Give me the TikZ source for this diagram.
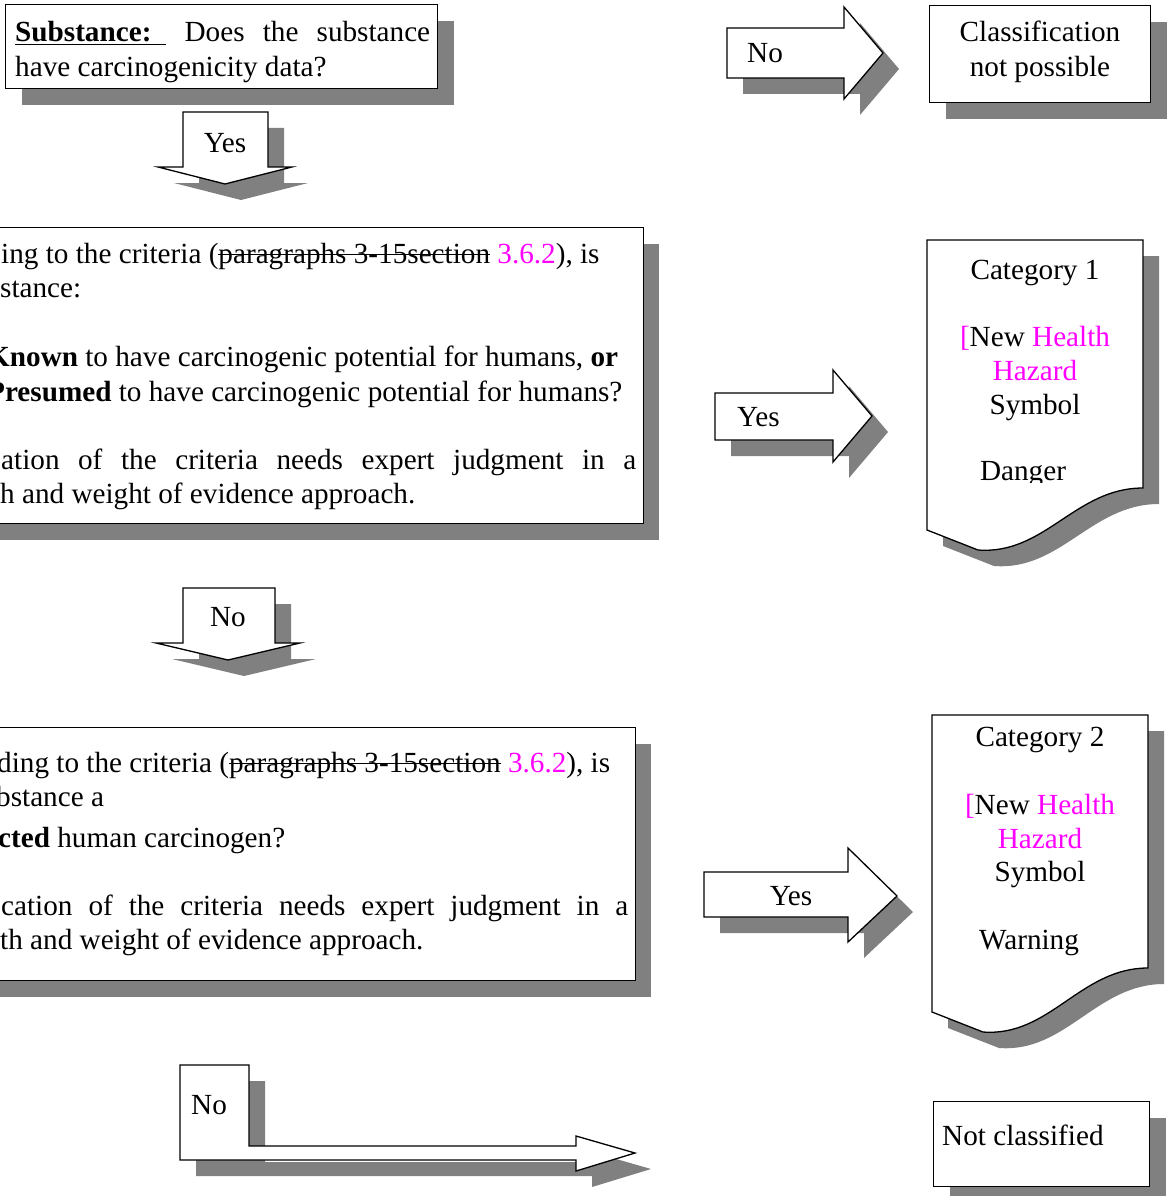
\documentclass[tikz,border=0pt]{standalone}
\usepackage{fontspec}
\setmainfont{Liberation Serif}
\usepackage{xcolor}
\usetikzlibrary{shadows}
\definecolor{shadowgray}{rgb}{0.5,0.5,0.5}
\definecolor{newtext}{rgb}{1,0,1}
\newsavebox{\strikebox}
\newcommand{\strikeout}[1]{\sbox{\strikebox}{#1}\rlap{\rule[0.27em]{\wd\strikebox}{0.05em}}\usebox{\strikebox}}

\tikzset{
  box/.style={draw=black, fill=white, line width=1.3pt, inner sep=0pt},
  dropgray/.style={general shadow={draw=none, fill=shadowgray, shadow xshift=16pt, shadow yshift=-16pt}},
  txt/.style={inner sep=0pt, anchor=base west, font=\fontsize{29.2}{34.5}\selectfont},
  ctxt/.style={txt, anchor=base},
}

\begin{document}
\begin{tikzpicture}[x=1pt,y=-1pt]
        \useasboundingbox (0,0) rectangle (1167,1196);
        % boxes
        \node[box, dropgray, minimum width=432, minimum height=84, anchor=north west] (subst) at (5,4) {};
        \node[box, dropgray, minimum width=680, minimum height=296, anchor=north east] (critA) at (644,227) {};
        \node[box, dropgray, minimum width=680, minimum height=253, anchor=north east] (critB) at (636,727) {};
        \node[box, dropgray, minimum width=221, minimum height=97, anchor=north west] (nopos) at (929,5) {};
        \node[box, dropgray, minimum width=216, minimum height=85, anchor=north west] (notcl) at (933,1101) {};
        % categories
        \draw[box, dropgray] (927,240) -- (1143,240) -- (1143,488) .. controls (1075,488) and (1045,555) .. (978,550) -- (927,530) -- cycle;
        \draw[box, dropgray] (932,715) -- (1148,715) -- (1148,968) .. controls (1080,968) and (1050,1037) .. (983,1032) -- (932,1012) -- cycle;
        % arrows
        \draw[box, dropgray] (183,112) -- (268,112) -- (268,167) -- (292,167) -- (225,184) -- (158,167) -- (183,167) -- cycle;
        \draw[box, dropgray] (183,588) -- (275,588) -- (275,643) -- (300,643) -- (228,660) -- (156,643) -- (183,643) -- cycle;
        \draw[box, dropgray] (727,28) -- (844,28) -- (844,7) -- (883,53) -- (844,99) -- (844,78) -- (727,78) -- cycle;
        \draw[box, dropgray] (715,393) -- (833,393) -- (833,370) -- (872,416) -- (833,462) -- (833,440) -- (715,440) -- cycle;
        \draw[box, dropgray] (704,872) -- (848,872) -- (848,848) -- (897,896) -- (848,942) -- (848,917) -- (704,917) -- cycle;
        \draw[box, dropgray] (180,1065) -- (249,1065) -- (249,1146) -- (576,1146) -- (576,1136) -- (635,1153) -- (576,1171) -- (576,1160) -- (180,1160) -- cycle;
        % text
        \node[txt] (subst1) at (15,42) {\makebox[415pt][s]{\underline{\textbf{Substance:}\hspace{15pt}} Does the substance}};
        \node[txt] (subst2) at (15,77) {have carcinogenicity data?};

        \node[txt] (critA1) at (1,263) {ing to the criteria (\strikeout{paragraphs 3-15section} \textcolor{newtext}{3.6.2}), is};
        \node[txt] (critA2) at (0,297) {stance:};
        \node[txt] (critA3) at (-13,366) {\textbf{Known} to have carcinogenic potential for humans, \textbf{or}};
        \node[txt] (critA4) at (-13,401) {\textbf{Presumed} to have carcinogenic potential for humans?};
        \node[txt] (critA5) at (1,469) {\makebox[635pt][s]{ation of the criteria needs expert judgment in a}};
        \node[txt] (critA6) at (0,503) {h and weight of evidence approach.};

        \node[txt] (critB1) at (-3,772) {ding to the criteria (\strikeout{paragraphs 3-15section} \textcolor{newtext}{3.6.2}), is};
        \node[txt] (critB2) at (-4,806) {bstance a};
        \node[txt] (critB3) at (-2,847) {\textbf{cted} human carcinogen?};
        \node[txt] (critB4) at (1,915) {\makebox[627pt][s]{cation of the criteria needs expert judgment in a}};
        \node[txt] (critB5) at (0,949) {th and weight of evidence approach.};

        \node[ctxt] (yesA) at (225,152) {Yes};
        \node[ctxt] (noA) at (228,626) {No};
        \node[txt] (noB) at (747,63) {No};
        \node[txt] (yesB) at (737,426) {Yes};
        \node[ctxt] (yesC) at (791,905) {Yes};
        \node[txt] (noC) at (191,1114) {No};

        \node[ctxt] (nopos1) at (1040,42) {Classification};
        \node[ctxt] (nopos2) at (1040,77) {not possible};
        \node[txt] (notcl1) at (942,1145) {Not classified};

        \node[ctxt] (catA1) at (1035,279) {Category 1};
        \node[ctxt] (catA2) at (1035,346) {\textcolor{newtext}{[}New \textcolor{newtext}{Health}};
        \node[ctxt] (catA3) at (1035,380) {\textcolor{newtext}{Hazard}};
        \node[ctxt] (catA4) at (1035,414) {Symbol};
        \begin{scope}
          \clip (927,240) rectangle (1143,482);
          \node[ctxt] (catA5) at (1023,480) {Danger};
        \end{scope}

        \node[ctxt] (catB1) at (1040,746) {Category 2};
        \node[ctxt] (catB2) at (1040,814) {\textcolor{newtext}{[}New \textcolor{newtext}{Health}};
        \node[ctxt] (catB3) at (1040,848) {\textcolor{newtext}{Hazard}};
        \node[ctxt] (catB4) at (1040,881) {Symbol};
        \node[ctxt] (catB5) at (1029,949) {Warning};
\end{tikzpicture}
\end{document}
